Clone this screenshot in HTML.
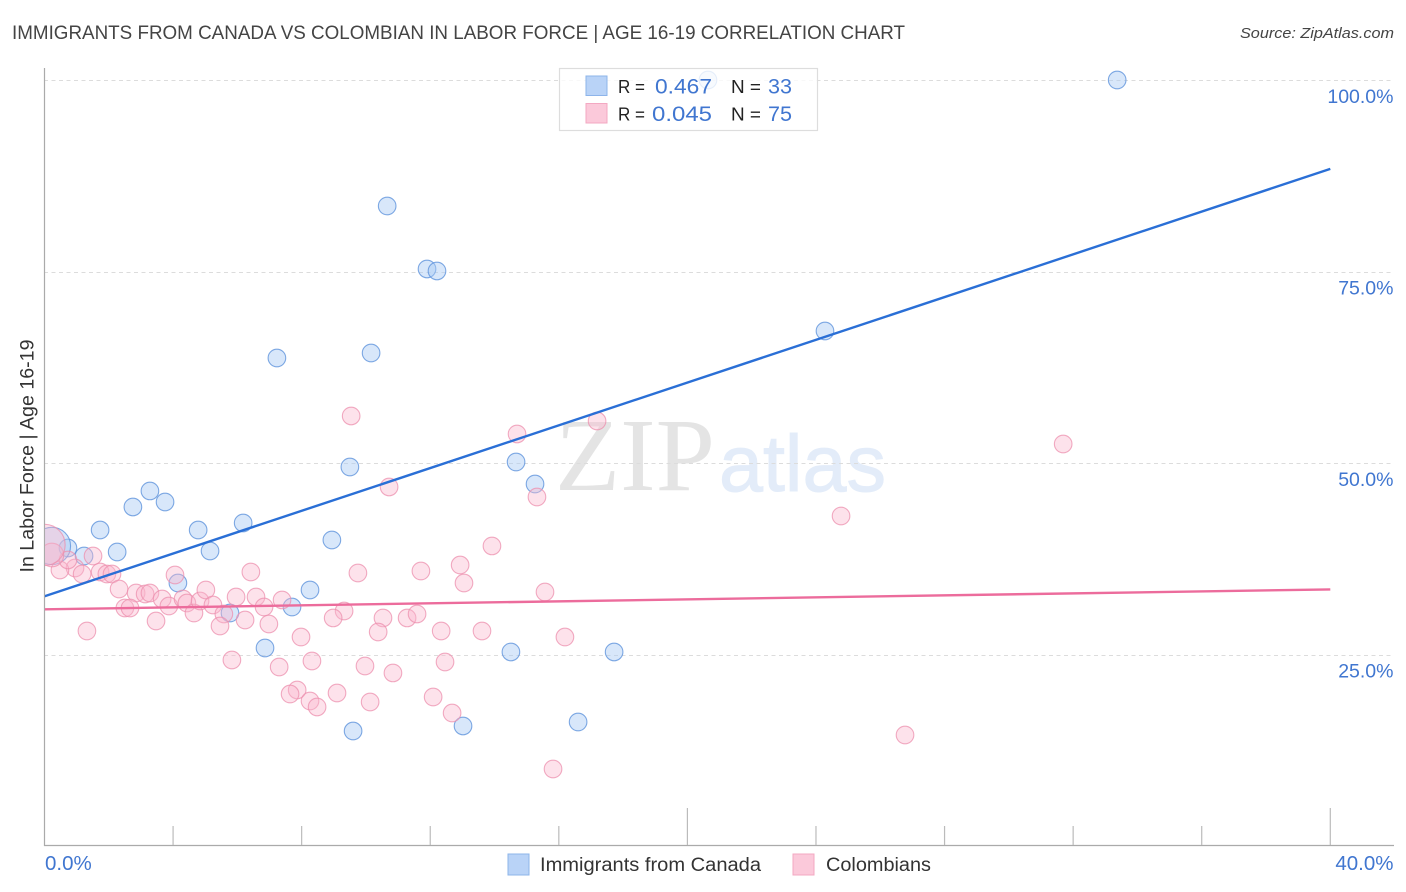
<!DOCTYPE html>
<html lang="en">
<head>
<meta charset="utf-8">
<title>Immigrants from Canada vs Colombian in Labor Force | Age 16-19 Correlation Chart</title>
<style>
html,body{margin:0;padding:0;background:#fff;width:1406px;height:892px;overflow:hidden}
svg{display:block}
text{font-family:"Liberation Sans",Arial,sans-serif}
</style>
</head>
<body>
<svg id="chart" xmlns="http://www.w3.org/2000/svg" width="1406" height="892" viewBox="0 0 1406 892">
  <defs>
    <clipPath id="plot-clip"><rect x="45" y="60" width="1349" height="785"/></clipPath>
  </defs>
  <text x="12" y="39" font-size="19" fill="#444" textLength="893" lengthAdjust="spacingAndGlyphs">IMMIGRANTS FROM CANADA VS COLOMBIAN IN LABOR FORCE | AGE 16-19 CORRELATION CHART</text>
  <text x="1394" y="38" font-size="15" font-style="italic" fill="#444" text-anchor="end" textLength="154" lengthAdjust="spacingAndGlyphs">Source: ZipAtlas.com</text>
  <g>
    <text x="555" y="490" font-size="104" fill="#e4e4e4" textLength="160" lengthAdjust="spacingAndGlyphs" style="font-family:'Liberation Serif',serif">ZIP</text>
    <text x="719" y="491" font-size="80" fill="#e3ecf9" stroke="#e3ecf9" stroke-width="1" textLength="167" lengthAdjust="spacingAndGlyphs">atlas</text>
  </g>
  <g id="grid"></g>
  <g id="axes"></g>
  <g id="plot" clip-path="url(#plot-clip)">
    <g id="blue-points"></g>
    <g id="pink-points"></g>
    <g id="trends"></g>
  </g>
  <g>
    <rect x="559.5" y="68.5" width="258" height="62" fill="#fff" fill-opacity="0.8" stroke="#ddd" stroke-width="1.2"/>
    <rect x="586" y="76" width="21" height="19.5" fill="#b9d3f7" stroke="#8db4ea" stroke-width="1"/>
    <rect x="586" y="103.5" width="21" height="19.5" fill="#fbc9da" stroke="#f3a8c2" stroke-width="1"/>
    <text x="618" y="93" font-size="18" fill="#222" textLength="27" lengthAdjust="spacingAndGlyphs">R =</text>
    <text x="712" y="93.5" font-size="21" fill="#4076d0" text-anchor="end" textLength="57" lengthAdjust="spacingAndGlyphs">0.467</text>
    <text x="731" y="93" font-size="18" fill="#222" textLength="30" lengthAdjust="spacingAndGlyphs">N =</text>
    <text x="792" y="93.5" font-size="21" fill="#4076d0" text-anchor="end" textLength="24" lengthAdjust="spacingAndGlyphs">33</text>
    <text x="618" y="120.5" font-size="18" fill="#222" textLength="27" lengthAdjust="spacingAndGlyphs">R =</text>
    <text x="712" y="121" font-size="21" fill="#4076d0" text-anchor="end" textLength="60" lengthAdjust="spacingAndGlyphs">0.045</text>
    <text x="731" y="120.5" font-size="18" fill="#222" textLength="30" lengthAdjust="spacingAndGlyphs">N =</text>
    <text x="792" y="121" font-size="21" fill="#4076d0" text-anchor="end" textLength="24" lengthAdjust="spacingAndGlyphs">75</text>
  </g>
  <g>
    <rect x="508" y="854" width="21" height="21" fill="#b9d3f7" stroke="#8db4ea" stroke-width="1"/>
    <text x="540" y="871" font-size="19" fill="#333" textLength="221" lengthAdjust="spacingAndGlyphs">Immigrants from Canada</text>
    <rect x="793" y="854" width="21" height="21" fill="#fbc9da" stroke="#f3a8c2" stroke-width="1"/>
    <text x="826" y="871" font-size="19" fill="#333" textLength="105" lengthAdjust="spacingAndGlyphs">Colombians</text>
  </g>
  <text transform="translate(33.5,456) rotate(-90)" font-size="19" fill="#333" text-anchor="middle" textLength="233" lengthAdjust="spacingAndGlyphs">In Labor Force | Age 16-19</text>
</svg>
<script>
const yTickValues = [100, 75, 50, 25];
const yTickLabels = ["100.0%", "75.0%", "50.0%", "25.0%"];
const xTickValues = [4, 8, 12, 16, 20, 24, 28, 32, 36, 40];
const xMajorTicks = [20, 40];
const xEndValues = [0, 40];
const xEndLabels = ["0.0%", "40.0%"];

const canadaX = [20.64,33.37,10.66,11.90,12.21,24.28,7.23,10.16,9.50,14.67,15.26,3.28,3.75,2.75,1.73,4.78,6.18,5.15,2.26,0.73,1.23,0.23,8.94,4.15,8.26,7.70,5.77,6.86,14.51,17.72,16.60,9.60,13.02];
const canadaY = [100,100,83.55,75.33,75.07,67.23,63.71,64.36,49.48,50.13,47.26,46.35,44.91,44.26,41.25,41.25,42.17,38.51,38.38,38.90,37.86,39.17,39.95,34.33,33.42,31.20,30.42,25.85,25.33,25.33,16.19,15.01,15.67];
const canadaWeight = [1,1,1,1,1,1,1,1,1,1,1,1,1,1,1,1,1,1,1,1,1,4.5,1,1,1,1,1,1,1,1,1,1,1];

const colombianX = [9.54,14.70,17.19,31.69,10.72,15.32,24.78,13.92,12.93,11.71,9.75,13.05,6.42,4.06,1.51,0.95,0.48,0.73,0.23,1.17,1.73,1.94,2.10,2.32,2.85,3.13,3.28,2.50,2.66,3.66,3.87,3.47,1.32,4.31,4.43,4.65,4.84,5.02,5.24,5.58,5.46,5.96,6.24,6.58,6.83,6.98,7.39,7.98,5.83,7.30,8.32,7.86,7.64,8.26,8.48,9.10,9.97,10.13,10.84,12.09,12.46,12.68,9.32,8.98,10.53,10.38,11.28,11.59,12.34,13.61,15.57,16.19,15.82,26.77,0];
const colombianY = [56.14,53.79,55.48,52.48,46.87,45.56,43.08,39.17,36.68,35.90,35.64,34.33,35.77,35.38,37.86,36.29,36.03,37.34,37.99,35.51,35.77,35.51,35.51,33.55,33.03,32.90,33.03,31.07,31.07,32.25,31.33,29.37,28.07,32.25,31.72,30.42,31.98,33.42,31.46,30.29,28.72,32.51,29.50,32.51,31.20,28.98,32.12,27.28,24.28,23.37,24.15,20.37,19.84,18.93,18.15,19.97,23.50,18.80,22.59,19.45,24.02,17.36,30.68,29.77,29.77,27.94,29.77,30.29,28.07,28.07,33.16,27.28,10.05,14.49,39.30];
const colombianWeight = [1,1,1,1,1,1,1,1,1,1,1,1,1,1,1,1,1,1,1.8,1,1,1,1,1,1,1,1,1,1,1,1,1,1,1,1,1,1,1,1,1,1,1,1,1,1,1,1,1,1,1,1,1,1,1,1,1,1,1,1,1,1,1,1,1,1,1,1,1,1,1,1,1,1,1,5.5];

const canadaTrendX = [0, 40];
const canadaTrendY = [32.6, 88.4];
const colombianTrendX = [0, 40];
const colombianTrendY = [30.9, 33.5];

const SVG_NS = "http://www.w3.org/2000/svg";
function xScale(v) { return 44.5 + v * (1330.3 - 44.5) / 40; }
function yScale(v) { return 846 - v * 7.66; }
function rScale(w) { return 8.8 * Math.sqrt(w); }

function make(tag, attrs, parent) {
  const el = document.createElementNS(SVG_NS, tag);
  for (const k in attrs) el.setAttribute(k, attrs[k]);
  parent.appendChild(el);
  return el;
}

const gridG = document.getElementById("grid");
const axesG = document.getElementById("axes");
const blueG = document.getElementById("blue-points");
const pinkG = document.getElementById("pink-points");
const trendG = document.getElementById("trends");

yTickValues.forEach(function (v, i) {
  const y = Math.round(yScale(v)) + 0.5;
  const line = make("line", {x1: 44, x2: 1393, y1: y, y2: y, stroke: "#dcdcdc", "stroke-width": 1, "stroke-dasharray": "4 3.5"}, gridG);
  
  
  const label = make("text", {x: 1393.5, y: yScale(v) + 23, "font-size": 19.5, fill: "#4076d0", "text-anchor": "end"}, axesG);
  label.textContent = yTickLabels[i];
  
  
});

const yAxis = make("line", {x1: 44.5, x2: 44.5, y1: 68, y2: 846, stroke: "#aaa", "stroke-width": 1.2}, axesG);


const xAxis = make("line", {x1: 44, x2: 1394, y1: 845.5, y2: 845.5, stroke: "#aaa", "stroke-width": 1.2}, axesG);



xTickValues.forEach(function (v) {
  const top = xMajorTicks.indexOf(v) >= 0 ? 808 : 826;
  const tick = make("line", {x1: xScale(v), x2: xScale(v), y1: top, y2: 845, stroke: "#bbb", "stroke-width": 1.2}, axesG);
  
  
});

xEndValues.forEach(function (v, i) {
  const attrs = i === 0
    ? {x: xScale(v) + 0.5, y: 870, "font-size": 20.5, fill: "#4076d0"}
    : {x: 1393.5, y: 870, "font-size": 20.5, fill: "#4076d0", "text-anchor": "end"};
  const label = make("text", attrs, axesG);
  label.textContent = xEndLabels[i];
  
  
});

canadaX.forEach(function (v, i) {
  const c = make("circle", {cx: xScale(v), cy: yScale(canadaY[i]), r: rScale(canadaWeight[i]), fill: "#a9c9f5", "fill-opacity": 0.45, stroke: "#5f93dc", "stroke-opacity": 0.8, "stroke-width": 1.1}, blueG);
  
  
});

colombianX.forEach(function (v, i) {
  const c = make("circle", {cx: xScale(v), cy: yScale(colombianY[i]), r: rScale(colombianWeight[i]), fill: "#f9b6cc", "fill-opacity": 0.4, stroke: "#ec8fae", "stroke-opacity": 0.75, "stroke-width": 1.1}, pinkG);
  
  
});

const blueTrend = make("line", {x1: xScale(canadaTrendX[0]), y1: yScale(canadaTrendY[0]), x2: xScale(canadaTrendX[1]), y2: yScale(canadaTrendY[1]), stroke: "#2a6fd6", "stroke-width": 2.4}, trendG);


const pinkTrend = make("line", {x1: xScale(colombianTrendX[0]), y1: yScale(colombianTrendY[0]), x2: xScale(colombianTrendX[1]), y2: yScale(colombianTrendY[1]), stroke: "#ec6c9c", "stroke-width": 2.4}, trendG);


</script>
</body>
</html>
